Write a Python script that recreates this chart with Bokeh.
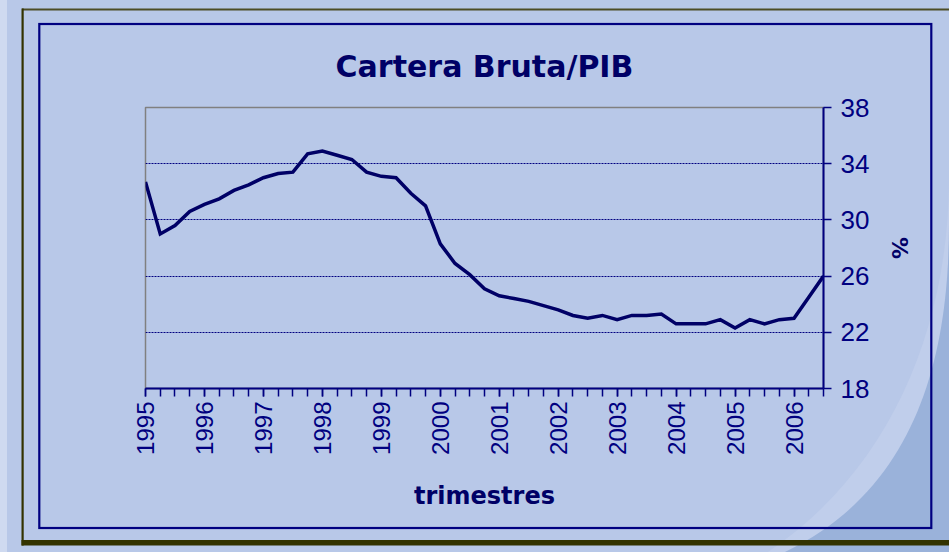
import math
from bokeh.plotting import figure
from bokeh.models import Range1d, FixedTicker, Title
from bokeh.embed import file_html
from bokeh.resources import INLINE

# ---- data -------------------------------------------------------------
years = ["1995", "1996", "1997", "1998", "1999", "2000", "2001", "2002",
         "2003", "2004", "2005", "2006"]
quarters = ["I", "II", "III", "IV"]
cartera_pib = [32.7, 29.0, 29.6, 30.6, 31.1, 31.5, 32.1, 32.5,
               33.0, 33.3, 33.4, 34.7, 34.9, 34.6, 34.3, 33.4,
               33.1, 33.0, 31.9, 31.0, 28.3, 26.9, 26.1, 25.1,
               24.6, 24.4, 24.2, 23.9, 23.6, 23.2, 23.0, 23.2,
               22.9, 23.2, 23.2, 23.3, 22.6, 22.6, 22.6, 22.9,
               22.3, 22.9, 22.6, 22.9, 23.0, 24.5, 26.0]
y_ticks = [18, 22, 26, 30, 34, 38]
grid_ticks = [22, 26, 30, 34]

n = len(cartera_pib)
idx = list(range(n))

BG = "#b8c8e8"
NAVY = "#000080"
DARK = "#000066"

# ---- slide-style background (decoration only) -------------------------
svg = (
    "<svg xmlns='http://www.w3.org/2000/svg' width='949' height='552'>"
    "<rect x='0' y='0' width='949' height='552' fill='%23b8c8e8'/>"
    "<rect x='0' y='0' width='7' height='552' fill='%23cfdaf0'/>"
    "<path d='M949,185 C947,330 890,470 768,552 L785,552 C915,490 949,360 949,225 Z' fill='%23c0ceeb'/>"
    "<path d='M949,225 C949,360 915,490 785,552 L949,552 Z' fill='%239ab2da'/>"
    "<rect x='22' y='8.5' width='940' height='2' fill='%234d4d26'/>"
    "<rect x='21.5' y='8.5' width='2.2' height='537' fill='%23333300'/>"
    "<rect x='21.5' y='540' width='940' height='5.5' fill='%23333300'/>"
    "<rect x='39.3' y='24' width='892' height='504' fill='none' stroke='%23000080' stroke-width='2.2'/>"
    "</svg>"
)

p = figure(width=949, height=552, output_backend="svg", toolbar_location=None,
           x_range=Range1d(0, n - 1), y_range=Range1d(18, 38),
           y_axis_location="right",
           min_border_left=145, min_border_right=126,
           min_border_top=107, min_border_bottom=164)
p.styles = {"background": 'url("data:image/svg+xml;utf8,' + svg + '") no-repeat 0 0'}
p.background_fill_color = BG
p.border_fill_alpha = 0
p.outline_line_color = "#808080"
p.outline_line_width = 1.5

# ---- title -------------------------------------------------------------
p.title = Title(text="Cartera Bruta/PIB", align="center",
                text_font="DejaVu Sans", text_font_style="bold",
                text_font_size="30px", text_color=DARK, standoff=47)

# ---- line ----------------------------------------------------------------
p.line(idx, cartera_pib, line_color=DARK, line_width=3.5, line_join="miter")

# ---- axes ----------------------------------------------------------------
xa = p.xaxis[0]
xa.ticker = FixedTicker(ticks=[4 * i for i in range(len(years))], minor_ticks=idx)
xa.major_label_overrides = {4 * i: y for i, y in enumerate(years)}
xa.major_label_orientation = math.pi / 2
xa.major_label_text_font = "Liberation Sans"
xa.major_label_text_font_size = "24px"
xa.major_label_text_color = NAVY
xa.major_label_standoff = 5
xa.axis_line_color = NAVY
xa.axis_line_width = 2
xa.major_tick_line_color = NAVY
xa.minor_tick_line_color = NAVY
xa.major_tick_line_width = 1.5
xa.minor_tick_line_width = 1.5
xa.major_tick_out = 8
xa.minor_tick_out = 8
xa.major_tick_in = 0
xa.minor_tick_in = 0
xa.axis_label = "trimestres"
xa.axis_label_text_font = "DejaVu Sans"
xa.axis_label_text_font_style = "bold"
xa.axis_label_text_font_size = "24px"
xa.axis_label_text_color = DARK
xa.axis_label_standoff = 24

ya = p.yaxis[0]
ya.ticker = FixedTicker(ticks=y_ticks, minor_ticks=[])
ya.major_label_text_font = "Liberation Sans"
ya.major_label_text_font_size = "26px"
ya.major_label_text_color = NAVY
ya.major_label_standoff = 9
ya.axis_line_color = NAVY
ya.axis_line_width = 2
ya.major_tick_line_color = NAVY
ya.major_tick_line_width = 1.5
ya.major_tick_out = 8
ya.major_tick_in = 0
ya.axis_label = "%"
ya.axis_label_text_font = "DejaVu Sans"
ya.axis_label_text_font_style = "bold"
ya.axis_label_text_font_size = "22px"
ya.axis_label_text_color = DARK
ya.axis_label_standoff = 15

p.xgrid.visible = False
p.ygrid[0].ticker = FixedTicker(ticks=grid_ticks)
p.ygrid[0].grid_line_color = NAVY
p.ygrid[0].grid_line_dash = "2 1"
p.ygrid[0].grid_line_width = 1.2

open("out.html", "w").write(file_html(p, INLINE))
